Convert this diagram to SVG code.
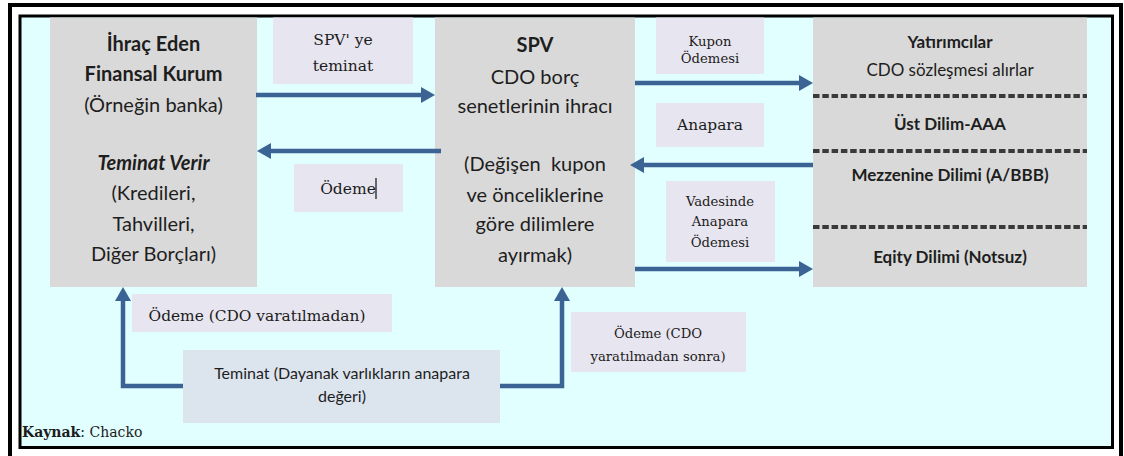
<svg xmlns="http://www.w3.org/2000/svg" width="1124" height="456" viewBox="0 0 1124 456">
  <style>
    .box { fill: #D9D9D9; }
    .tag { fill: #E7E5EF; }
    .tag2 { fill: #DCE4EE; }
    .sans { font-family: Lato, "Liberation Sans", sans-serif; fill: #1E1E1E; text-anchor: middle; }
    .serif { font-family: "DejaVu Serif", "Liberation Serif", serif; fill: #1C1C1C; text-anchor: middle; }
    .b { font-weight: bold; }
    .link { fill: none; stroke: #3B6494; stroke-width: 4.5; marker-end: url(#head); }
    .tier { stroke: #3A3A3A; stroke-width: 4; stroke-dasharray: 6.5 2.8; }
  </style>
  <defs>
    <marker id="head" markerUnits="userSpaceOnUse" markerWidth="14" markerHeight="16" viewBox="0 0 14 16" refX="0" refY="8" orient="auto">
      <path d="M0,0 L14,8 L0,16 Z" fill="#3B6494"/>
    </marker>
  </defs>

  <!-- page and double frame -->
  <rect width="1124" height="456" fill="#FFFFFF"/>
  <path d="M10,456 V5 H1121 V456" fill="none" stroke="#000" stroke-width="4"/>
  <rect x="20" y="16" width="1092.5" height="431.5" fill="#E1FFFF" stroke="#000" stroke-width="3"/>

  <!-- issuing institution -->
  <g id="issuer">
    <rect class="box" x="50" y="17.5" width="207" height="269.5"/>
    <text class="sans b" x="153.5" y="51" font-size="20">İhraç Eden</text>
    <text class="sans b" x="153.5" y="81" font-size="20">Finansal Kurum</text>
    <text class="sans" x="153.5" y="112" font-size="20">(Örneğin banka)</text>
    <text class="sans b" x="153.5" y="170" font-size="20" font-style="italic">Teminat Verir</text>
    <text class="sans" x="153.5" y="200" font-size="20">(Kredileri,</text>
    <text class="sans" x="153.5" y="231" font-size="20">Tahvilleri,</text>
    <text class="sans" x="153.5" y="261" font-size="20">Diğer Borçları)</text>
  </g>

  <!-- special purpose vehicle -->
  <g id="spv">
    <rect class="box" x="435" y="17.5" width="200" height="269.5"/>
    <text class="sans b" x="535" y="52" font-size="20">SPV</text>
    <text class="sans" x="535" y="84" font-size="20">CDO borç</text>
    <text class="sans" x="535" y="113" font-size="20">senetlerinin ihracı</text>
    <text class="sans" x="535" y="171" font-size="20">(Değişen&#160; kupon</text>
    <text class="sans" x="535" y="202" font-size="20">ve önceliklerine</text>
    <text class="sans" x="535" y="231" font-size="20">göre dilimlere</text>
    <text class="sans" x="535" y="262" font-size="20">ayırmak)</text>
  </g>

  <!-- investors and tranches -->
  <g id="investors">
    <rect class="box" x="813" y="17.5" width="274" height="269.5"/>
    <text class="sans b" x="950" y="48" font-size="17">Yatırımcılar</text>
    <text class="sans" x="950" y="76" font-size="17" fill="#2E2A3A">CDO sözleşmesi alırlar</text>
    <line class="tier" x1="813" y1="96" x2="1087" y2="96"/>
    <text class="sans b" x="950" y="130" font-size="17">Üst Dilim-AAA</text>
    <line class="tier" x1="813" y1="151" x2="1087" y2="151"/>
    <text class="sans b" x="950" y="181" font-size="17">Mezzenine Dilimi (A/BBB)</text>
    <line class="tier" x1="813" y1="227" x2="1087" y2="227"/>
    <text class="sans b" x="950" y="263" font-size="17">Eqity Dilimi (Notsuz)</text>
  </g>

  <!-- flow labels -->
  <g id="label-teminat-spv">
    <rect class="tag" x="273" y="17.5" width="140" height="66.5"/>
    <text class="serif" x="343" y="45" font-size="15.5">SPV' ye</text>
    <text class="serif" x="343" y="71" font-size="15.5">teminat</text>
  </g>
  <g id="label-odeme">
    <rect class="tag" x="294" y="164" width="109" height="48"/>
    <text class="serif" x="348" y="194" font-size="15.5">Ödeme</text>
    <line x1="376" y1="178" x2="376" y2="199" stroke="#111" stroke-width="1.2"/>
  </g>
  <g id="label-kupon">
    <rect class="tag" x="656" y="17.5" width="108" height="56.5"/>
    <text class="serif" x="710" y="46" font-size="13.2">Kupon</text>
    <text class="serif" x="710" y="63" font-size="13.2">Ödemesi</text>
  </g>
  <g id="label-anapara">
    <rect class="tag" x="656" y="103" width="108" height="44"/>
    <text class="serif" x="710" y="130" font-size="15.4">Anapara</text>
  </g>
  <g id="label-vade">
    <rect class="tag" x="666" y="181" width="109" height="81"/>
    <text class="serif" x="720" y="206" font-size="13.2">Vadesinde</text>
    <text class="serif" x="720" y="226" font-size="13.2">Anapara</text>
    <text class="serif" x="720" y="247" font-size="13.2">Ödemesi</text>
  </g>
  <g id="label-odeme-once">
    <rect class="tag" x="132" y="294" width="260" height="38"/>
    <text class="serif" x="257" y="321" font-size="15.4">Ödeme (CDO varatılmadan)</text>
  </g>
  <g id="label-odeme-sonra">
    <rect class="tag" x="571" y="312" width="175" height="60"/>
    <text class="serif" x="658" y="338" font-size="13.2">Ödeme (CDO</text>
    <text class="serif" x="658" y="361" font-size="13.2">yaratılmadan sonra)</text>
  </g>
  <g id="collateral">
    <rect class="tag2" x="183" y="350" width="317" height="73"/>
    <text class="sans" x="342" y="379" font-size="16" fill="#333">Teminat (Dayanak varlıkların anapara</text>
    <text class="sans" x="342" y="402" font-size="16" fill="#333">değeri)</text>
  </g>

  <!-- connectors -->
  <g id="connectors">
    <path class="link" d="M256,95 H421"/>
    <path class="link" d="M441,151 H271"/>
    <path class="link" d="M635,83 H799"/>
    <path class="link" d="M813,165 H644"/>
    <path class="link" d="M635,269 H799"/>
    <path class="link" d="M183,386 H123 V301"/>
    <path class="link" d="M500,386 H562 V301"/>
  </g>

  <!-- source note -->
  <text x="22" y="437" font-family="'DejaVu Serif', 'Liberation Serif', serif" font-size="14" fill="#1C1C1C"><tspan font-weight="bold">Kaynak</tspan>: Chacko</text>
</svg>
